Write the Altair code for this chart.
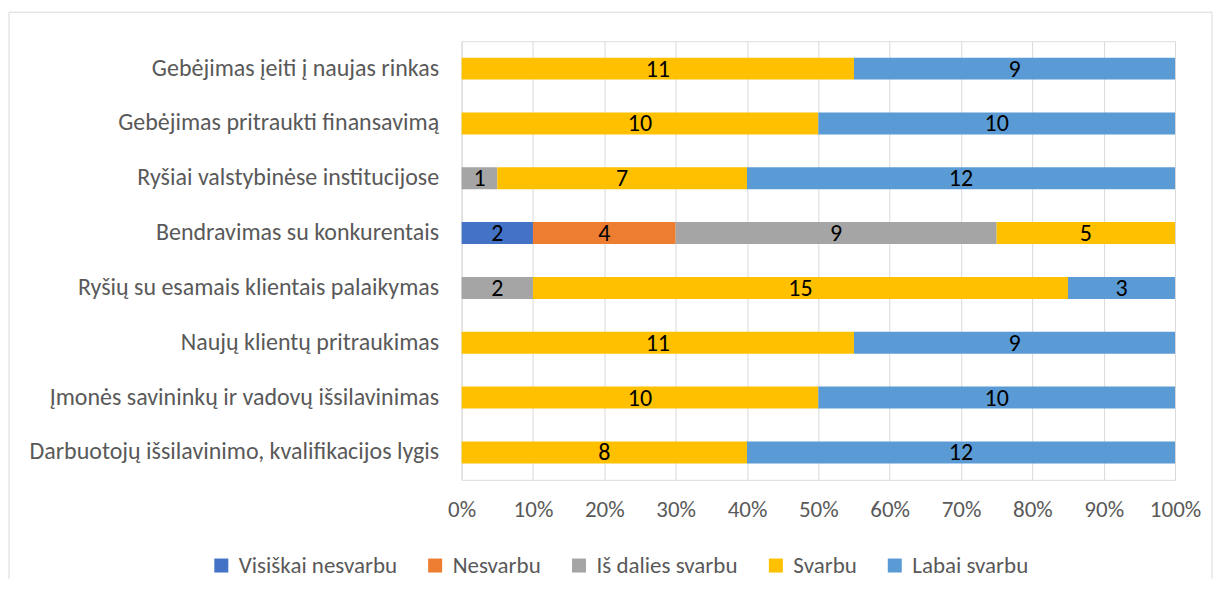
import altair as alt
import pandas as pd

categories = [
    "Gebėjimas įeiti į naujas rinkas",
    "Gebėjimas pritraukti finansavimą",
    "Ryšiai valstybinėse institucijose",
    "Bendravimas su konkurentais",
    "Ryšių su esamais klientais palaikymas",
    "Naujų klientų pritraukimas",
    "Įmonės savininkų ir vadovų išsilavinimas",
    "Darbuotojų išsilavinimo, kvalifikacijos lygis",
]
levels = ["Visiškai nesvarbu", "Nesvarbu", "Iš dalies svarbu", "Svarbu", "Labai svarbu"]
colors = ["#4472C4", "#ED7D31", "#A5A5A5", "#FFC000", "#5B9BD5"]

visiskai_nesvarbu = [0, 0, 0, 2, 0, 0, 0, 0]
nesvarbu = [0, 0, 0, 4, 0, 0, 0, 0]
is_dalies_svarbu = [0, 0, 1, 9, 2, 0, 0, 0]
svarbu = [11, 10, 7, 5, 15, 11, 10, 8]
labai_svarbu = [9, 10, 12, 0, 3, 9, 10, 12]

series = [visiskai_nesvarbu, nesvarbu, is_dalies_svarbu, svarbu, labai_svarbu]
rows = []
for li, (lvl, vals) in enumerate(zip(levels, series)):
    for cat, v in zip(categories, vals):
        rows.append({"cat": cat, "level": lvl, "lvl_idx": li, "value": v})
df = pd.DataFrame(rows)

FONT = "Carlito, Lato, sans-serif"
FS = 23

base = (
    alt.Chart(df)
    .transform_filter("datum.value > 0")
    .transform_joinaggregate(total="sum(value)", groupby=["cat"])
    .transform_window(cum="sum(value)", sort=[alt.SortField("lvl_idx")], groupby=["cat"], frame=[None, 0])
    .transform_calculate(
        x1="(datum.cum - datum.value) / datum.total",
        x2="datum.cum / datum.total",
        xm="(datum.cum - datum.value / 2) / datum.total",
    )
)

yenc = alt.Y(
    "cat:N",
    sort=categories,
    title=None,
    axis=alt.Axis(
        labelFontSize=24, labelColor="#595959", labelFont=FONT, ticks=False, domain=False,
        labelPadding=23, labelLimit=460, grid=False,
    ),
)

bars = base.mark_bar(size=22).encode(
    x=alt.X(
        "x1:Q",
        scale=alt.Scale(domain=[0, 1], nice=False),
        title=None,
        axis=alt.Axis(
            format="%", values=[i / 10 for i in range(11)], labelFontSize=FS, labelColor="#595959",
            labelFont=FONT, ticks=False, domain=False, gridColor="#D9D9D9", labelPadding=19,
            labelFlush=False, labelOverlap=False, labelAlign="center",
        ),
    ),
    x2="x2:Q",
    y=yenc,
    color=alt.Color(
        "level:N",
        scale=alt.Scale(domain=levels, range=colors),
        legend=alt.Legend(
            title=None, orient="none", legendX=-252, legendY=513, direction="horizontal",
            symbolType="square", symbolSize=196, symbolStrokeWidth=0, labelFontSize=FS,
            labelColor="#595959", labelFont=FONT, columnPadding=26, labelOffset=6,
        ),
    ),
)

text = base.mark_text(fontSize=24, color="black", font=FONT, baseline="middle", dy=1).encode(
    x=alt.X("xm:Q"),
    y=alt.Y("cat:N", sort=categories),
    text="value:Q",
)

border_df = pd.DataFrame({"k": [0]})
top_line = alt.Chart(border_df).mark_rule(color="#D9D9D9", strokeWidth=1).encode(
    x=alt.value(-453), x2=alt.value(751), y=alt.value(-29)
)
left_line = alt.Chart(border_df).mark_rule(color="#D9D9D9", strokeWidth=1).encode(
    x=alt.value(-453), y=alt.value(-29), y2=alt.value(538)
)
right_line = alt.Chart(border_df).mark_rule(color="#D9D9D9", strokeWidth=1).encode(
    x=alt.value(751), y=alt.value(-29), y2=alt.value(538)
)

chart = (
    alt.layer(top_line, left_line, right_line, bars, text)
    .properties(width=714, height=439, padding={"left": 0, "top": 3, "right": 0, "bottom": 0})
    .configure_view(stroke=None)
    .configure(background="white")
)

chart.save("out.html", embed_options={"renderer": "svg", "actions": False})
